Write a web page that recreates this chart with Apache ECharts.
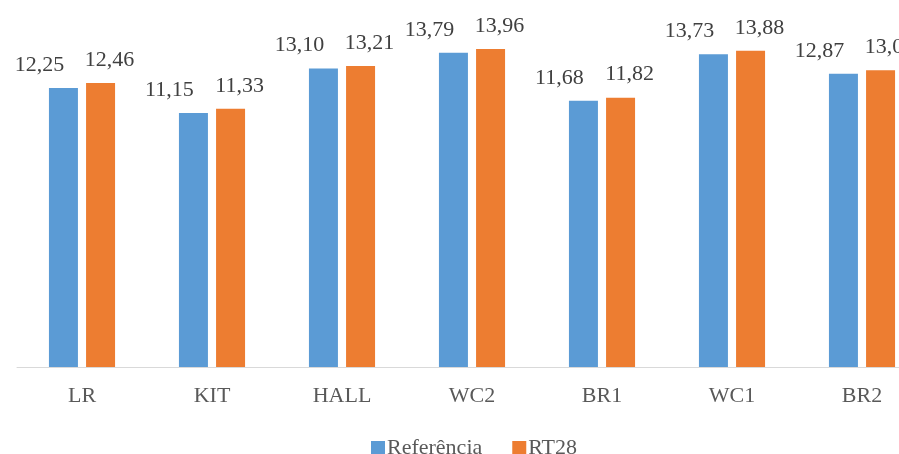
<!DOCTYPE html>
<html>
<head>
<meta charset="utf-8">
<script src="https://cdn.jsdelivr.net/npm/echarts@6/dist/echarts.min.js"></script>
<style>
  html, body { margin: 0; padding: 0; background: #fff; overflow: hidden; width: 899px; height: 454px; }
  /* canvas is wider than the window: the last group runs off the right edge */
  #chart { width: 927px; height: 454px; }
</style>
</head>
<body>
<div id="chart"></div>
<script>
// Rooms and the two measured series
const categories = ['LR', 'KIT', 'HALL', 'WC2', 'BR1', 'WC1', 'BR2'];
const referencia = [12.25, 11.15, 13.10, 13.79, 11.68, 13.73, 12.87];
const rt28 = [12.46, 11.33, 13.21, 13.96, 11.82, 13.88, 13.02];

const serif = '"Liberation Serif", "DejaVu Serif", serif';
const fmt = p => p.value.toFixed(2).replace('.', ',');

const chart = echarts.init(document.getElementById('chart'));
chart.setOption({
  animation: false,
  backgroundColor: '#ffffff',
  grid: { left: 17, right: 0, top: 48, bottom: 87, containLabel: false },
  legend: {
    data: ['Referência', 'RT28'],
    left: 366,
    top: 432,
    itemWidth: 14,
    itemHeight: 14,
    itemGap: 30,
    icon: 'rect',
    textStyle: { fontFamily: serif, fontSize: 22, color: '#595959', padding: [0, 0, 0, -3] }
  },
  xAxis: {
    type: 'category',
    data: categories,
    axisLine: { lineStyle: { color: '#d9d9d9', width: 1 } },
    axisTick: { show: false },
    axisLabel: { fontFamily: serif, fontSize: 22, color: '#595959', margin: 18 }
  },
  yAxis: {
    type: 'value',
    min: 0,
    max: 14,
    show: false,
    splitLine: { show: false }
  },
  series: [
    {
      name: 'Referência',
      type: 'bar',
      data: referencia,
      barWidth: 29,
      barGap: '28%',
      itemStyle: { color: '#5b9bd5' },
      label: {
        show: true,
        position: 'top',
        distance: 12,
        offset: [-24, 0],
        formatter: fmt,
        fontFamily: serif,
        fontSize: 22,
        color: '#404040'
      }
    },
    {
      name: 'RT28',
      type: 'bar',
      data: rt28,
      barWidth: 29,
      itemStyle: { color: '#ed7d31' },
      label: {
        show: true,
        position: 'top',
        distance: 12,
        offset: [9, 0],
        formatter: fmt,
        fontFamily: serif,
        fontSize: 22,
        color: '#404040'
      }
    }
  ]
});
</script>
</body>
</html>
